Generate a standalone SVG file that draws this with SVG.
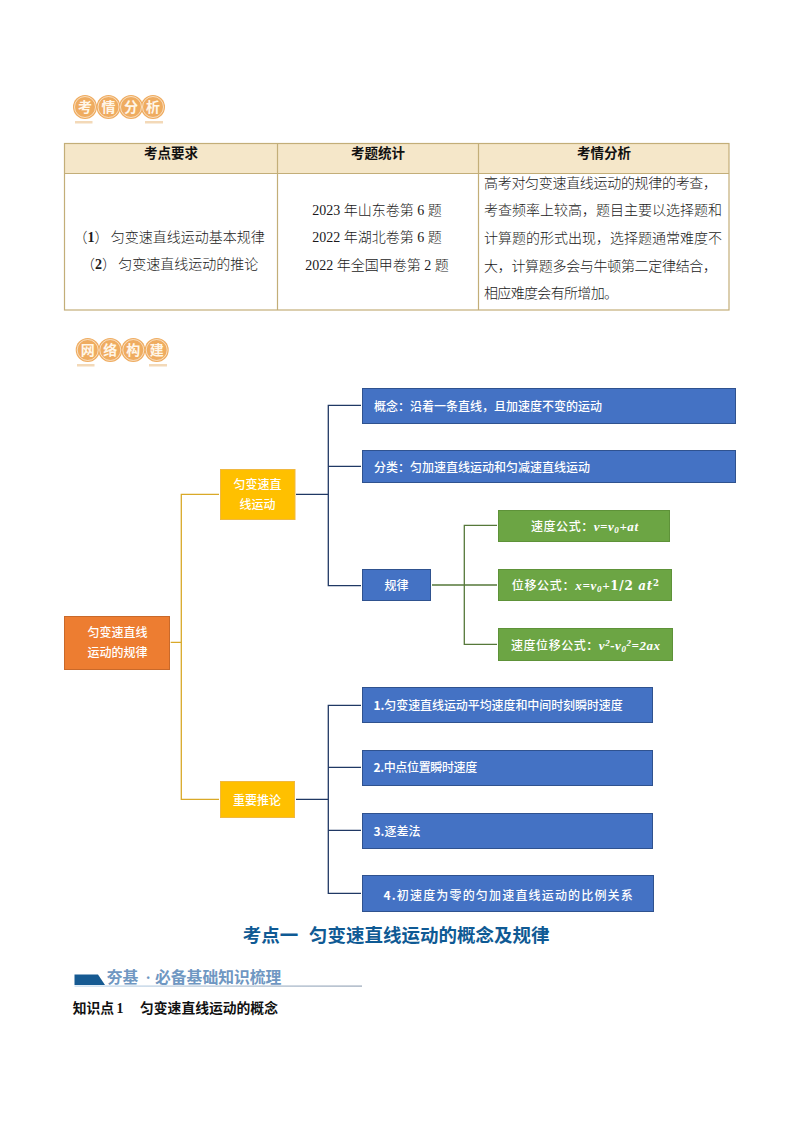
<svg xmlns="http://www.w3.org/2000/svg" width="794" height="1123" viewBox="0 0 794 1123">
<style>
text{font-family:"Liberation Serif","Noto Sans CJK SC",serif}
.t{font-size:14px;fill:#1a1a1a;font-weight:300}
.h{font-size:13.500px;fill:#111;font-weight:700;text-anchor:middle}
.c{text-anchor:middle}
.n{font-family:"Noto Sans CJK SC",sans-serif;font-size:12px;fill:#fff;font-weight:500}
.m{font-family:"Liberation Serif","Noto Sans CJK SC",serif;font-style:italic;font-weight:700;font-size:13px}
.tb{fill:none;stroke:#c3ae78;stroke-width:1.2}
.bc{fill:#efac60}
.br{fill:none;stroke:#fff;stroke-opacity:.75;stroke-width:.8}
.bt{font-family:"Noto Sans CJK SC",sans-serif;font-size:14px;font-weight:700;fill:#fff6e8;text-anchor:middle}
.bu{fill:#f3d9b8}
.blue{fill:#4472c4;stroke:#2f528f;stroke-width:1}
.gold{fill:#ffc000;stroke:#f0b840;stroke-width:1}
.org{fill:#ed7d31;stroke:#c9692a;stroke-width:1}
.grn{fill:#6ca544;stroke:#5e9239;stroke-width:1}
.y{stroke:#d9a928;stroke-width:1.3;fill:none}
.k{stroke:#203864;stroke-width:1.3;fill:none}
.g{stroke:#56783a;stroke-width:1.3;fill:none}
</style>
<defs>
<linearGradient id="lg" x1="0" x2="1" y1="0" y2="0"><stop offset="0" stop-color="#c5dcf0"/><stop offset="1" stop-color="#98a6b8"/></linearGradient>
</defs>

<g id="badge1">
<rect class="bu" x="75" y="121" width="17.500" height="2.500"/><rect class="bu" x="145" y="121" width="18" height="2.500"/>
<circle class="bc" cx="85" cy="107" r="12"/><circle class="bc" cx="108.500" cy="107" r="12"/><circle class="bc" cx="131" cy="107" r="12"/><circle class="bc" cx="153" cy="107" r="12"/>
<circle class="br" cx="85" cy="107" r="10.500"/><circle class="br" cx="108.500" cy="107" r="10.500"/><circle class="br" cx="131" cy="107" r="10.500"/><circle class="br" cx="153" cy="107" r="10.500"/>
<text class="bt" x="85" y="112">考</text><text class="bt" x="108.500" y="112">情</text><text class="bt" x="131" y="112">分</text><text class="bt" x="153" y="112">析</text>
</g>

<g id="exam-table">
<rect x="64.500" y="143.500" width="664.500" height="29.500" fill="#f5e7c9"/>
<rect class="tb" x="64.500" y="143.500" width="664.500" height="166.500"/>
<path class="tb" d="M64.500 173.500H729M277.500 143.500V310M478.500 143.500V310"/>
<text class="h" x="171" y="158">考点要求</text>
<text class="h" x="378" y="158">考题统计</text>
<text class="h" x="604" y="158">考情分析</text>
<text class="t" x="73.500" y="241.500">（<tspan font-weight="700">1</tspan>）<tspan x="110.700">匀变速直线运动基本规律</tspan></text>
<text class="t" x="81" y="268.500">（<tspan font-weight="700">2</tspan>）<tspan x="118.300">匀变速直线运动的推论</tspan></text>
<text class="t c" x="377" y="215">2023 年山东卷第 6 题</text>
<text class="t c" x="377" y="242">2022 年湖北卷第 6 题</text>
<text class="t c" x="377" y="270">2022 年全国甲卷第 2 题</text>
<text class="t" x="484" y="188" textLength="233">高考对匀变速直线运动的规律的考查，</text>
<text class="t" x="484" y="215" textLength="238">考查频率上较高，题目主要以选择题和</text>
<text class="t" x="484" y="243" textLength="238">计算题的形式出现，选择题通常难度不</text>
<text class="t" x="484" y="271" textLength="233">大，计算题多会与牛顿第二定律结合，</text>
<text class="t" x="484" y="298" textLength="134">相应难度会有所增加。</text>
</g>

<g id="badge2">
<rect class="bu" x="77" y="364" width="17.500" height="2.500"/><rect class="bu" x="149" y="364" width="18" height="2.500"/>
<circle class="bc" cx="87.700" cy="350" r="12"/><circle class="bc" cx="110.300" cy="350" r="12"/><circle class="bc" cx="133.300" cy="350" r="12"/><circle class="bc" cx="156.700" cy="350" r="12"/>
<circle class="br" cx="87.700" cy="350" r="10.500"/><circle class="br" cx="110.300" cy="350" r="10.500"/><circle class="br" cx="133.300" cy="350" r="10.500"/><circle class="br" cx="156.700" cy="350" r="10.500"/>
<text class="bt" x="87.700" y="355">网</text><text class="bt" x="110.300" y="355">络</text><text class="bt" x="133.300" y="355">构</text><text class="bt" x="156.700" y="355">建</text>
</g>

<g id="connectors">
<path class="y" d="M170.700 642.300H181.300M219 494.300H181.300V799.300H219"/>
<path class="k" d="M296 494.300H328.300M361 405.300H328.300V585.700H361M328.300 466.300H361"/>
<path class="g" d="M432 585H497M497 525.300H464.300V644.300H497"/>
<path class="k" d="M296 799.300H328.300M361 705.300H328.300V893.300H361M328.300 767.300H361M328.300 830.300H361"/>
</g>

<g id="root"><rect class="org" x="64.500" y="616.500" width="105" height="53"/>
<text class="n c" x="117.500" y="637">匀变速直线</text><text class="n c" x="117.500" y="657">运动的规律</text></g>
<g id="uniform"><rect class="gold" x="220.500" y="469.500" width="74.500" height="50"/>
<text class="n c" x="257.500" y="489">匀变速直</text><text class="n c" x="257.500" y="509">线运动</text></g>
<g id="inference"><rect class="gold" x="220.500" y="781.500" width="74" height="36"/>
<text class="n c" x="257" y="804.500">重要推论</text></g>
<g id="concept"><rect class="blue" x="362.500" y="388.500" width="373" height="35"/>
<text class="n" x="374" y="411">概念：沿着一条直线，且加速度不变的运动</text></g>
<g id="category"><rect class="blue" x="362.500" y="450.500" width="373" height="32"/>
<text class="n" x="374" y="471.500">分类：匀加速直线运动和匀减速直线运动</text></g>
<g id="law"><rect class="blue" x="362.500" y="569.500" width="68" height="31"/>
<text class="n c" x="396.500" y="590">规律</text></g>
<g id="formula-v"><rect class="grn" x="498.500" y="510.500" width="171" height="31"/>
<text class="n" x="531" y="531" textLength="107">速度公式：<tspan class="m">v=v<tspan font-size="9" dy="2">0</tspan><tspan dy="-2">+at</tspan></tspan></text></g>
<g id="formula-x"><rect class="grn" x="498.500" y="569.500" width="173" height="31"/>
<text class="n" x="511.700" y="590" textLength="147.300">位移公式：<tspan class="m">x=v<tspan font-size="9" dy="2">0</tspan><tspan dy="-2">+</tspan></tspan><tspan font-family="DejaVu Serif" font-weight="700" font-size="12">1/2 <tspan font-style="italic">at</tspan><tspan font-size="8.500" dy="-4">2</tspan></tspan></text></g>
<g id="formula-vx"><rect class="grn" x="498.500" y="628.500" width="174" height="32"/>
<text class="n" x="511" y="649.500" textLength="149">速度位移公式：<tspan class="m">v<tspan font-size="9" dy="-4">2</tspan><tspan dy="4">-v</tspan><tspan font-size="9" dy="2">0</tspan><tspan font-size="9" dy="-6">2</tspan><tspan dy="4">=2ax</tspan></tspan></text></g>
<g id="item1"><rect class="blue" x="362.500" y="687.500" width="290" height="35"/>
<text class="n" x="373.500" y="710" textLength="249.300"><tspan font-weight="700">1.</tspan>匀变速直线运动平均速度和中间时刻瞬时速度</text></g>
<g id="item2"><rect class="blue" x="362.500" y="750.500" width="290" height="35"/>
<text class="n" x="373.500" y="772" textLength="103.700"><tspan font-weight="700">2.</tspan>中点位置瞬时速度</text></g>
<g id="item3"><rect class="blue" x="362.500" y="813.500" width="290" height="35"/>
<text class="n" x="373.500" y="835.500"><tspan font-weight="700">3.</tspan>逐差法</text></g>
<g id="item4"><rect class="blue" x="362.500" y="875.500" width="291" height="36"/>
<text class="n" x="383.500" y="899.500" textLength="249.300"><tspan font-weight="700">4.</tspan>初速度为零的匀加速直线运动的比例关系</text></g>

<g id="footer">
<text y="942" font-size="18.500" font-weight="700" fill="#0f5a94"><tspan x="242.700">考点一 </tspan><tspan x="309">匀变速直线运动的概念及规律</tspan></text>
<path d="M74.500 974.500H98L105 985H74.500Z" fill="#165a92"/>
<rect x="74.500" y="985.500" width="287.500" height="1.200" fill="url(#lg)"/>
<text y="982.500" font-size="15.800" font-weight="700" fill="#6f97c2"><tspan x="106.700">夯基</tspan><tspan x="145.500">·</tspan><tspan x="155">必备基础知识梳理</tspan></text>
<text y="1013" font-size="13.800" font-weight="700" fill="#111"><tspan x="72.700">知识点</tspan><tspan x="116.500">1</tspan><tspan x="140">匀变速直线运动的概念</tspan></text>
</g>
</svg>
